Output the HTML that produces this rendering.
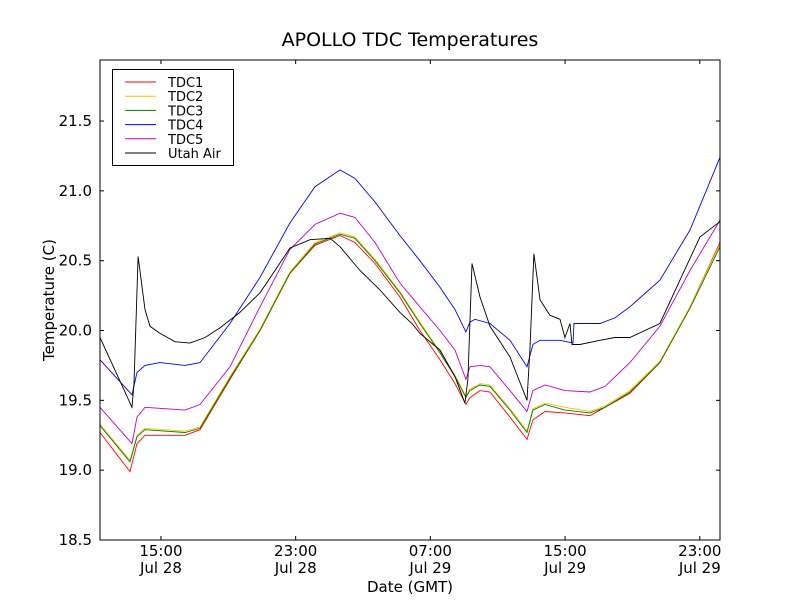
<!DOCTYPE html>
<html><head><meta charset="utf-8"><style>
html,body{margin:0;padding:0;background:#fff;}
svg text{font-family:"DejaVu Sans","Liberation Sans",sans-serif;}
</style></head><body>
<svg id="chart" width="800" height="600" viewBox="0 0 800 600" xmlns="http://www.w3.org/2000/svg">
<rect x="0" y="0" width="800" height="600" fill="#fff"/>
<text x="410" y="46" font-size="19" text-anchor="middle">APOLLO TDC Temperatures</text>
<g id="plot"></g>
<rect x="100" y="60" width="620" height="480" fill="none" stroke="#000" stroke-width="1"/>
<g id="axes"></g>
<text transform="translate(54,300) rotate(-90)" font-size="15" text-anchor="middle">Temperature (C)</text>
<text x="410" y="592" font-size="15" text-anchor="middle">Date (GMT)</text>
<g>
<rect x="112.5" y="69.5" width="121" height="96" fill="#fff" stroke="#000" stroke-width="1"/>
<g id="legend-items"></g>
</g>
</svg>
<script>
// hours since Jul 28 00:00 GMT
const xMin = 11.38, xMax = 48.20, yMin = 18.5, yMax = 21.937;
const yTicks = [18.5, 19.0, 19.5, 20.0, 20.5, 21.0, 21.5];
const yTickLabels = ["18.5","19.0","19.5","20.0","20.5","21.0","21.5"];
const xTicks = [15, 23, 31, 39, 47];
const xTickTimes = ["15:00","23:00","07:00","15:00","23:00"];
const xTickDates = ["Jul 28","Jul 28","Jul 29","Jul 29","Jul 29"];
const seriesNames = ["TDC1","TDC2","TDC3","TDC4","TDC5","Utah Air"];
const seriesColors = ["#ff0000","#ffbf00","#008000","#0000ff","#bf00bf","#000000"];

const tdc1Hours = [11.38,13.16,13.58,14.05,16.43,17.32,19.10,20.88,22.66,24.15,25.63,26.52,27.71,29.19,30.38,31.57,32.46,33.11,33.35,33.95,34.54,35.73,36.74,37.09,37.81,38.99,40.48,41.37,42.85,44.63,46.42,48.20];
const tdc1Values = [19.27,18.99,19.19,19.25,19.25,19.29,19.65,20.00,20.41,20.61,20.68,20.63,20.48,20.24,20.00,19.79,19.62,19.47,19.52,19.57,19.56,19.38,19.22,19.36,19.42,19.41,19.39,19.45,19.55,19.77,20.17,20.63];
const tdc3Hours = [11.38,13.16,13.58,14.05,16.43,17.32,19.10,20.88,22.66,24.15,25.63,26.52,27.71,29.19,30.38,31.57,32.46,33.11,33.35,33.95,34.54,35.73,36.74,37.09,37.81,38.99,40.48,41.37,42.85,44.63,46.42,48.20];
const tdc3Values = [19.32,19.06,19.24,19.29,19.27,19.30,19.66,20.00,20.41,20.62,20.69,20.66,20.50,20.27,20.05,19.84,19.67,19.52,19.57,19.61,19.60,19.43,19.27,19.43,19.47,19.43,19.41,19.45,19.56,19.77,20.16,20.60];
const tdc2Hours = tdc3Hours.slice();
const tdc2Values = [19.33,19.07,19.25,19.30,19.28,19.31,19.67,20.01,20.42,20.63,20.70,20.67,20.51,20.28,20.06,19.85,19.68,19.53,19.58,19.62,19.61,19.44,19.28,19.44,19.48,19.45,19.42,19.46,19.57,19.78,20.17,20.62];
const tdc4Hours = [11.38,13.28,13.58,14.05,14.94,16.43,17.32,19.10,20.88,22.66,24.15,25.63,26.52,27.71,29.19,30.38,31.57,32.46,33.11,33.35,33.65,34.54,35.73,36.74,37.09,37.51,38.70,39.47,39.53,41.07,41.96,42.85,44.63,46.42,48.20];
const tdc4Values = [19.79,19.54,19.70,19.75,19.77,19.75,19.77,20.05,20.38,20.77,21.03,21.15,21.09,20.92,20.68,20.50,20.31,20.15,19.99,20.06,20.08,20.05,19.93,19.74,19.90,19.93,19.93,19.91,20.05,20.05,20.09,20.17,20.36,20.72,21.24];
const tdc5Hours = [11.38,13.28,13.58,14.05,16.43,17.32,19.10,20.88,22.66,24.15,25.63,26.52,27.71,29.19,30.38,31.57,32.46,33.11,33.35,33.95,34.54,35.73,36.74,37.09,37.81,38.99,40.48,41.37,42.85,44.63,46.42,48.20];
const tdc5Values = [19.45,19.19,19.38,19.45,19.43,19.47,19.74,20.17,20.58,20.76,20.84,20.81,20.63,20.34,20.17,20.00,19.86,19.65,19.74,19.75,19.74,19.57,19.42,19.57,19.61,19.57,19.56,19.60,19.77,20.03,20.43,20.79];
const airHours = [11.38,13.28,13.40,13.64,14.05,14.35,14.94,15.83,16.72,17.62,18.51,19.69,20.88,21.77,22.66,23.85,25.04,25.63,26.82,28.01,29.19,29.91,30.38,31.57,32.46,33.05,33.23,33.47,33.95,34.54,35.73,36.74,36.91,37.15,37.51,38.10,38.70,38.99,39.29,39.41,39.88,41.07,41.96,42.85,44.63,45.82,47.01,48.20];
const airValues = [19.95,19.45,19.62,20.53,20.15,20.03,19.98,19.92,19.91,19.95,20.02,20.13,20.27,20.43,20.59,20.65,20.66,20.60,20.43,20.29,20.13,20.05,19.98,19.86,19.67,19.48,19.65,20.48,20.24,20.03,19.81,19.50,19.86,20.55,20.22,20.11,20.08,19.95,20.05,19.90,19.90,19.93,19.95,19.95,20.05,20.36,20.67,20.78];

const allHours = [tdc1Hours,tdc2Hours,tdc3Hours,tdc4Hours,tdc5Hours,airHours];
const allValues = [tdc1Values,tdc2Values,tdc3Values,tdc4Values,tdc5Values,airValues];

const L=100,R=720,T=60,B=540;
const xs = h => L + (h - xMin) / (xMax - xMin) * (R - L);
const ys = v => B - (v - yMin) / (yMax - yMin) * (B - T);
const NS="http://www.w3.org/2000/svg";
function mk(tag, attrs){const e=document.createElementNS(NS,tag);for(const k in attrs)e.setAttribute(k,attrs[k]);return e;}

const plot=document.getElementById('plot');
const clip=mk('clipPath',{id:'clipplot'});
clip.appendChild(mk('rect',{x:L,y:T,width:R-L,height:B-T}));
plot.appendChild(clip);
// draw order: TDC1..TDC5 then air, matching matplotlib
for(let s=0;s<6;s++){
  const d=allHours[s].map((h,i)=>(i?'L':'M')+xs(h).toFixed(1)+' '+ys(allValues[s][i]).toFixed(1)).join(' ');
  const p=mk('path',{d:d,fill:'none',stroke:seriesColors[s],'stroke-width':0.9,'clip-path':'url(#clipplot)'});
  
  
  plot.appendChild(p);
}

const axes=document.getElementById('axes');
yTicks.forEach((v,i)=>{
  const y=ys(v);
  const t1=mk('line',{x1:L,x2:L+4,y1:y,y2:y,stroke:'#000'});
  
  
  axes.appendChild(t1);
  const t2=mk('line',{x1:R-4,x2:R,y1:y,y2:y,stroke:'#000'});
  
  
  axes.appendChild(t2);
  const lab=mk('text',{x:L-8,y:y+5,'font-size':15,'text-anchor':'end'});
  lab.textContent=yTickLabels[i];
  
  
  axes.appendChild(lab);
});
xTicks.forEach((h,i)=>{
  const x=xs(h);
  const t1=mk('line',{x1:x,x2:x,y1:B-4,y2:B,stroke:'#000'});
  
  
  axes.appendChild(t1);
  const t2=mk('line',{x1:x,x2:x,y1:T,y2:T+4,stroke:'#000'});
  
  
  axes.appendChild(t2);
  const l1=mk('text',{x:x,y:556,'font-size':15,'text-anchor':'middle'});
  l1.textContent=xTickTimes[i];
  
  
  axes.appendChild(l1);
  const l2=mk('text',{x:x,y:573,'font-size':15,'text-anchor':'middle'});
  l2.textContent=xTickDates[i];
  
  
  axes.appendChild(l2);
});

const leg=document.getElementById('legend-items');
seriesNames.forEach((n,i)=>{
  const y=82+i*14.2;
  const ln=mk('line',{x1:125,x2:156,y1:y,y2:y,stroke:seriesColors[i],'stroke-width':1});
  
  
  leg.appendChild(ln);
  const tx=mk('text',{x:168,y:y+5,'font-size':13});
  tx.textContent=n;
  
  
  leg.appendChild(tx);
});
</script>
</body></html>
